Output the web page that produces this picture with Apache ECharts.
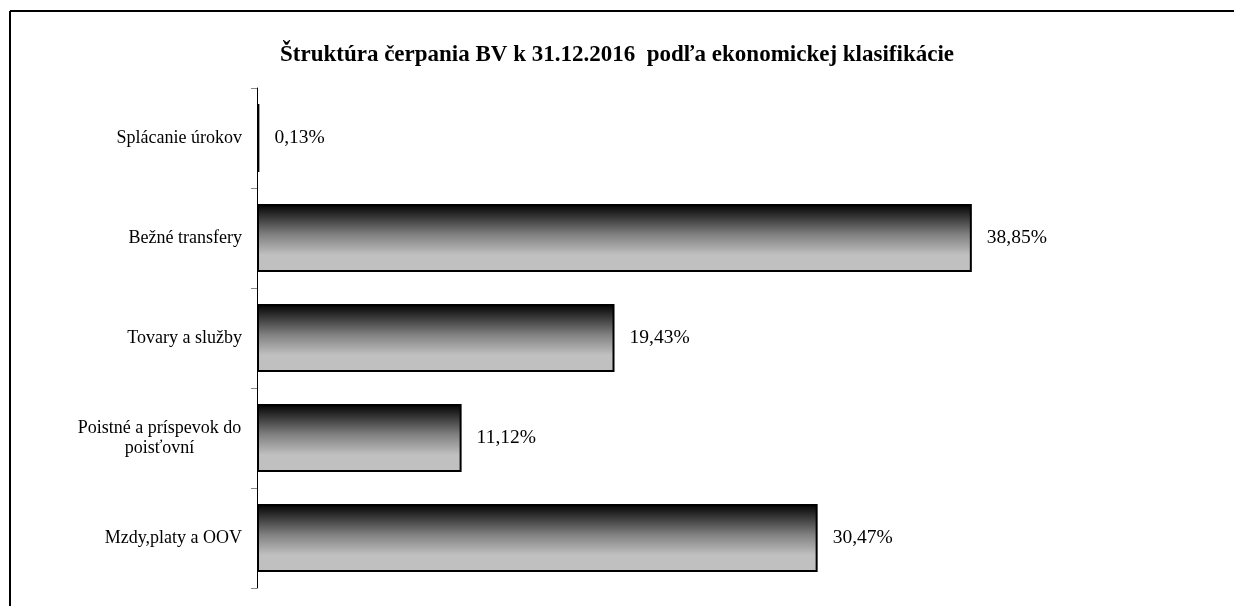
<!DOCTYPE html>
<html>
<head>
<meta charset="utf-8">
<script src="https://cdn.jsdelivr.net/npm/echarts@6/dist/echarts.min.js"></script>
<style>
  html, body { margin: 0; padding: 0; background: #fff; }
  #chart { width: 1234px; height: 606px; }
</style>
</head>
<body>
<div id="chart"></div>
<script>
// kategorie zdola nahor (kategoriova os ide odspodu)
const categories = [
  "Mzdy,platy a OOV",
  "Poistné a príspevok do\npoisťovní",
  "Tovary a služby",
  "Bežné transfery",
  "Splácanie úrokov",
];
const shares = [30.47, 11.12, 19.43, 38.85, 0.13];
const titleText = "Štruktúra čerpania BV k 31.12.2016  podľa ekonomickej klasifikácie";

const font = "'Liberation Serif', 'Times New Roman', serif";

const chart = echarts.init(document.getElementById("chart"));

const option = {
  backgroundColor: "#fff",
  animation: false,
  title: {
    text: titleText,
    left: "center",
    top: 39,
    textStyle: { fontFamily: font, fontSize: 23, fontWeight: "bold", color: "#000" },
  },
  graphic: [
    // ramik grafu - len lava a horna hrana su viditelne
    { type: "line", shape: { x1: 10, y1: 11, x2: 1234, y2: 11 }, style: { stroke: "#000", lineWidth: 2 } },
    { type: "line", shape: { x1: 10, y1: 11, x2: 10, y2: 606 }, style: { stroke: "#000", lineWidth: 2 } },
  ],
  grid: { left: 257, right: 57, top: 88, bottom: 18, containLabel: false },
  xAxis: {
    type: "value",
    min: 0,
    max: 50,
    show: false,
  },
  yAxis: {
    type: "category",
    data: categories,
    axisLine: { show: true, lineStyle: { color: "#000", width: 1 } },
    axisTick: { show: true, length: 6, lineStyle: { color: "#888" } },
    axisLabel: {
      margin: 15,
      color: "#000",
      fontFamily: font,
      fontSize: 18,
      formatter: (v) => {
        if (v.indexOf("\n") >= 0) {
          return v.split("\n").map((s) => "{c|" + s + "}").join("\n");
        }
        return v;
      },
      rich: {
        c: { width: 165, align: "center", fontFamily: font, fontSize: 18, color: "#000", lineHeight: 20 },
      },
    },
  },
  series: [
    {
      type: "bar",
      data: shares,
      barWidth: 68,
      itemStyle: {
        color: new echarts.graphic.LinearGradient(0, 0, 0, 1, [
          { offset: 0, color: "#000" },
          { offset: 0.45, color: "#808080" },
          { offset: 0.75, color: "#c0c0c0" },
          { offset: 1, color: "#c0c0c0" },
        ]),
        borderColor: "#000",
        borderWidth: 2,
      },
      label: {
        show: true,
        position: "right",
        distance: 15,
        color: "#000",
        fontFamily: font,
        fontSize: 19.5,
        formatter: (p) => p.value.toFixed(2).replace(".", ",") + "%",
      },
    },
  ],
};

chart.setOption(option);
</script>
</body>
</html>
